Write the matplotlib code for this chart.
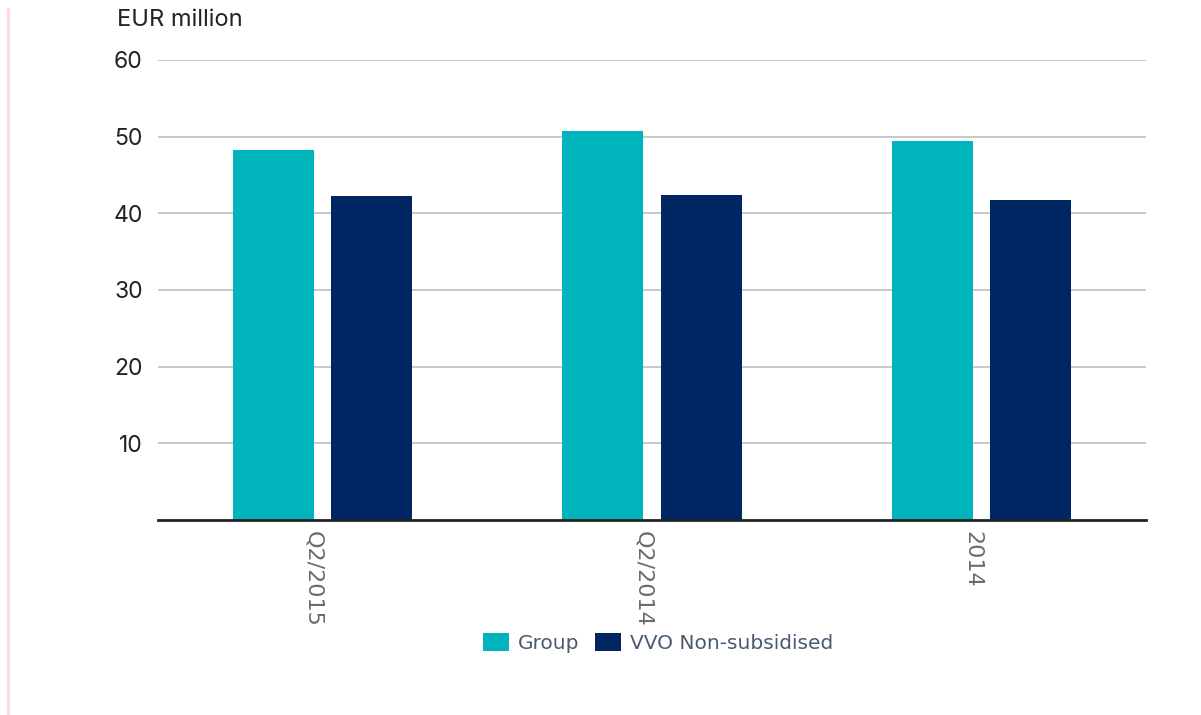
import numpy as np
import matplotlib.pyplot as plt
import matplotlib.transforms as mtransforms

categories = ["Q2/2015", "Q2/2014", "2014"]
group = [48.3, 50.8, 49.5]
vvo_non_subsidised = [42.3, 42.4, 41.7]
yticks = [10, 20, 30, 40, 50, 60]

teal = "#00b4bc"
navy = "#002663"

fig = plt.figure(figsize=(12.01, 7.15), dpi=100)
ax = fig.add_axes([158 / 1201, 1 - 520 / 715, 988 / 1201, 460 / 715])

x = np.arange(len(categories))
w = 0.246
off = 0.149
ax.bar(x - off, group, w, color=teal, label="Group", zorder=3)
ax.bar(x + off, vvo_non_subsidised, w, color=navy, label="VVO Non-subsidised", zorder=3)

ax.set_xlim(-0.5, len(categories) - 0.5)
ax.set_ylim(0, 60)
ax.set_yticks(yticks)
ax.set_yticklabels([str(v) for v in yticks], fontsize=16.5, color="#222222", family="Inter")
ax.yaxis.grid(True, color="#c8c8c8", linewidth=1.4, zorder=0)
ax.tick_params(axis="y", length=0, pad=11)

ax.set_xticks(x)
ax.set_xticklabels(categories, rotation=-90, fontsize=16, color="#6b6b6b",
                   family="DejaVu Sans", va="top", ha="center")
ax.tick_params(axis="x", length=0, pad=8)
shift = mtransforms.ScaledTranslation(-9 / 100, 0, fig.dpi_scale_trans)
for lbl in ax.get_xticklabels():
    lbl.set_transform(lbl.get_transform() + shift)

for side in ["top", "right", "left"]:
    ax.spines[side].set_visible(False)
ax.spines["bottom"].set_color("#222222")
ax.spines["bottom"].set_linewidth(2)
ax.spines["bottom"].set_zorder(4)

fig.text(117 / 1201, 1 - 20 / 715, "EUR million", fontsize=17, color="#222222",
         family="Inter", ha="left", va="center")

leg = fig.legend(loc="center", bbox_to_anchor=(658 / 1201, 1 - 643 / 715), ncol=2,
                 frameon=False, handlelength=1.29, handleheight=1.0,
                 handletextpad=0.45, columnspacing=0.75,
                 prop={"family": "DejaVu Sans", "size": 14.5})
for t in leg.get_texts():
    t.set_color("#4a5b70")

# thin pink rule down the left edge
fig.add_artist(plt.Line2D([8 / 1201, 8 / 1201], [0, 1 - 9 / 715],
                          transform=fig.transFigure, color="#ffd8e2", linewidth=2))

fig.savefig("out.png", dpi=100)
